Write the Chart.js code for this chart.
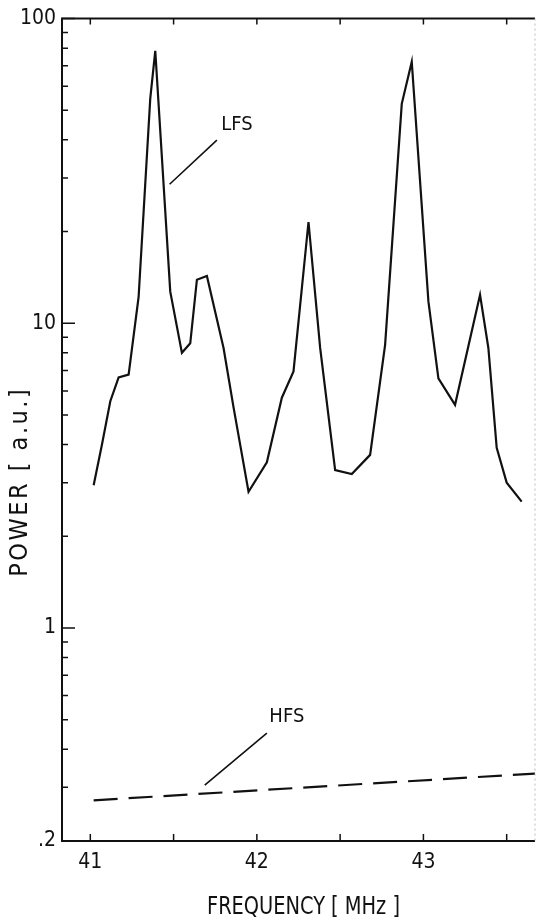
<!DOCTYPE html>
<html>
<head>
<meta charset="utf-8">
<script src="https://cdn.jsdelivr.net/npm/chart.js@4.4.0/dist/chart.umd.min.js"></script>
<style>
    html, body { margin: 0; padding: 0; background: #fff; }
    #wrap { width: 537px; height: 922px; }
</style>
</head>
<body>
<div id="wrap"><canvas id="chart" width="537" height="922"></canvas></div>
<script>
// LFS spectrum (solid)
const lfsFreq = [41.02, 41.07, 41.12, 41.17, 41.23, 41.29, 41.36, 41.39, 41.48, 41.55,
                 41.60, 41.64, 41.70, 41.80, 41.86, 41.95, 42.06, 42.15, 42.22, 42.31,
                 42.38, 42.47, 42.57, 42.68, 42.77, 42.87, 42.93, 43.03, 43.09, 43.19,
                 43.34, 43.39, 43.44, 43.50, 43.59];
const lfsPower = [2.94, 4.0, 5.55, 6.64, 6.79, 12.2, 54.7, 78.4, 12.7, 8.0,
                  8.6, 13.9, 14.3, 8.3, 5.3, 2.8, 3.5, 5.7, 6.95, 21.5,
                  8.3, 3.3, 3.2, 3.7, 8.5, 52.5, 72.2, 11.8, 6.6, 5.4,
                  12.4, 8.3, 3.9, 3.0, 2.6];

// HFS (dashed)
const hfsFreq = [41.02, 43.67];
const hfsPower = [0.272, 0.333];

const xTickValues = [41, 41.5, 42, 42.5, 43, 43.5];
const xLabelValues = [41, 42, 43];
const xLabelText = ['41', '42', '43'];

const yTickValues = [0.2, 0.3, 0.4, 0.5, 0.6, 0.7, 0.8, 0.9,
                     1, 2, 3, 4, 5, 6, 7, 8, 9,
                     10, 20, 30, 40, 50, 60, 70, 80, 90, 100];
const yLabelValues = [0.2, 1, 10, 100];
const yLabelText = ['.2', '1', '10', '100'];

const xTitle = 'FREQUENCY [ MHz ]';
const yTitle = 'POWER [ a.u.]';

const notes = [
    { text: 'LFS', at: [41.88, 44.7], from: [41.76, 39.9], to: [41.476, 28.6] },
    { text: 'HFS', at: [42.18, 0.511], from: [42.06, 0.452], to: [41.687, 0.305] }
];

const INK = '#111';
const FONT = '"DejaVu Sans Condensed", "Liberation Sans Narrow", "DejaVu Sans", sans-serif';

function toXY(fs, ps) { return fs.map((f, i) => ({ x: f, y: ps[i] })); }
function labelFor(v, vals, txt) {
    const i = vals.findIndex(t => Math.abs(t - v) < 1e-9);
    return i >= 0 ? txt[i] : '';
}

// frame, inward ticks, titles and the two labels
const decor = {
    id: 'decor',
    afterDraw(chart) {
        const { ctx, chartArea: a, scales: { x, y } } = chart;
        ctx.save();
        ctx.strokeStyle = INK;
        ctx.fillStyle = INK;
        ctx.lineWidth = 2;
        ctx.beginPath();
        ctx.moveTo(a.right, a.top);
        ctx.lineTo(a.left, a.top);
        ctx.lineTo(a.left, a.bottom);
        ctx.lineTo(a.right, a.bottom);
        ctx.stroke();

        ctx.strokeStyle = '#bbb';
        ctx.lineWidth = 1;
        ctx.setLineDash([2, 3]);
        ctx.beginPath();
        ctx.moveTo(a.right, a.top);
        ctx.lineTo(a.right, a.bottom);
        ctx.stroke();
        ctx.setLineDash([]);

        ctx.strokeStyle = INK;
        ctx.lineWidth = 1.5;
        ctx.beginPath();
        xTickValues.forEach(v => {
            const px = x.getPixelForValue(v);
            ctx.moveTo(px, a.bottom); ctx.lineTo(px, a.bottom - 7);
            ctx.moveTo(px, a.top); ctx.lineTo(px, a.top + 6);
        });
        yTickValues.forEach(v => {
            const py = y.getPixelForValue(v);
            const major = [1, 10, 100].includes(v);
            ctx.moveTo(a.left, py); ctx.lineTo(a.left + (major ? 13 : 6), py);
        });
        ctx.stroke();

        // axis titles
        ctx.font = '24px ' + FONT;
        ctx.textAlign = 'center';
        ctx.textBaseline = 'alphabetic';
        ctx.fillText(xTitle, (a.left + a.right) / 2 + 5, chart.height - 8, 193);
        ctx.save();
        ctx.font = '25px ' + FONT;
        ctx.letterSpacing = '2.5px';
        ctx.translate(27, (a.top + a.bottom) / 2 + 52);
        ctx.rotate(-Math.PI / 2);
        ctx.fillText(yTitle, 0, 0, 192);
        ctx.restore();

        // curve labels with leader lines
        ctx.font = '20px ' + FONT;
        ctx.textBaseline = 'middle';
        ctx.lineWidth = 1.6;
        notes.forEach(n => {
            ctx.fillText(n.text, x.getPixelForValue(n.at[0]), y.getPixelForValue(n.at[1]), 40);
            ctx.beginPath();
            ctx.moveTo(x.getPixelForValue(n.from[0]), y.getPixelForValue(n.from[1]));
            ctx.lineTo(x.getPixelForValue(n.to[0]), y.getPixelForValue(n.to[1]));
            ctx.stroke();
        });
        ctx.restore();
    }
};

new Chart(document.getElementById('chart'), {
    type: 'line',
    data: {
        datasets: [
            {
                label: 'LFS',
                data: toXY(lfsFreq, lfsPower),
                borderColor: INK,
                borderWidth: 2.2,
                pointRadius: 0,
                tension: 0
            },
            {
                label: 'HFS',
                data: toXY(hfsFreq, hfsPower),
                borderColor: INK,
                borderWidth: 2.2,
                borderDash: [24, 11],
                pointRadius: 0,
                tension: 0
            }
        ]
    },
    options: {
        responsive: false,
        animation: false,
        layout: { padding: { top: 16, right: 2, left: 0, bottom: 0 } },
        plugins: { legend: { display: false }, tooltip: { enabled: false } },
        scales: {
            x: {
                type: 'linear',
                min: 40.83,
                max: 43.67,
                grid: { display: false, drawTicks: false },
                border: { display: false },
                afterBuildTicks: s => { s.ticks = xTickValues.map(v => ({ value: v })); },
                afterFit: s => { s.height = 81; },
                ticks: {
                    callback: v => labelFor(v, xLabelValues, xLabelText),
                    autoSkip: false,
                    maxRotation: 0,
                    padding: 9,
                    color: INK,
                    font: { family: FONT, size: 21 }
                }
            },
            y: {
                type: 'logarithmic',
                min: 0.2,
                max: 100,
                grid: { display: false, drawTicks: false },
                border: { display: false },
                afterBuildTicks: s => { s.ticks = yTickValues.map(v => ({ value: v })); },
                afterFit: s => { s.width = 62; },
                ticks: {
                    callback: v => labelFor(v, yLabelValues, yLabelText),
                    autoSkip: false,
                    padding: 6,
                    color: INK,
                    font: { family: FONT, size: 21 }
                }
            }
        }
    },
    plugins: [decor]
});
</script>
</body>
</html>
